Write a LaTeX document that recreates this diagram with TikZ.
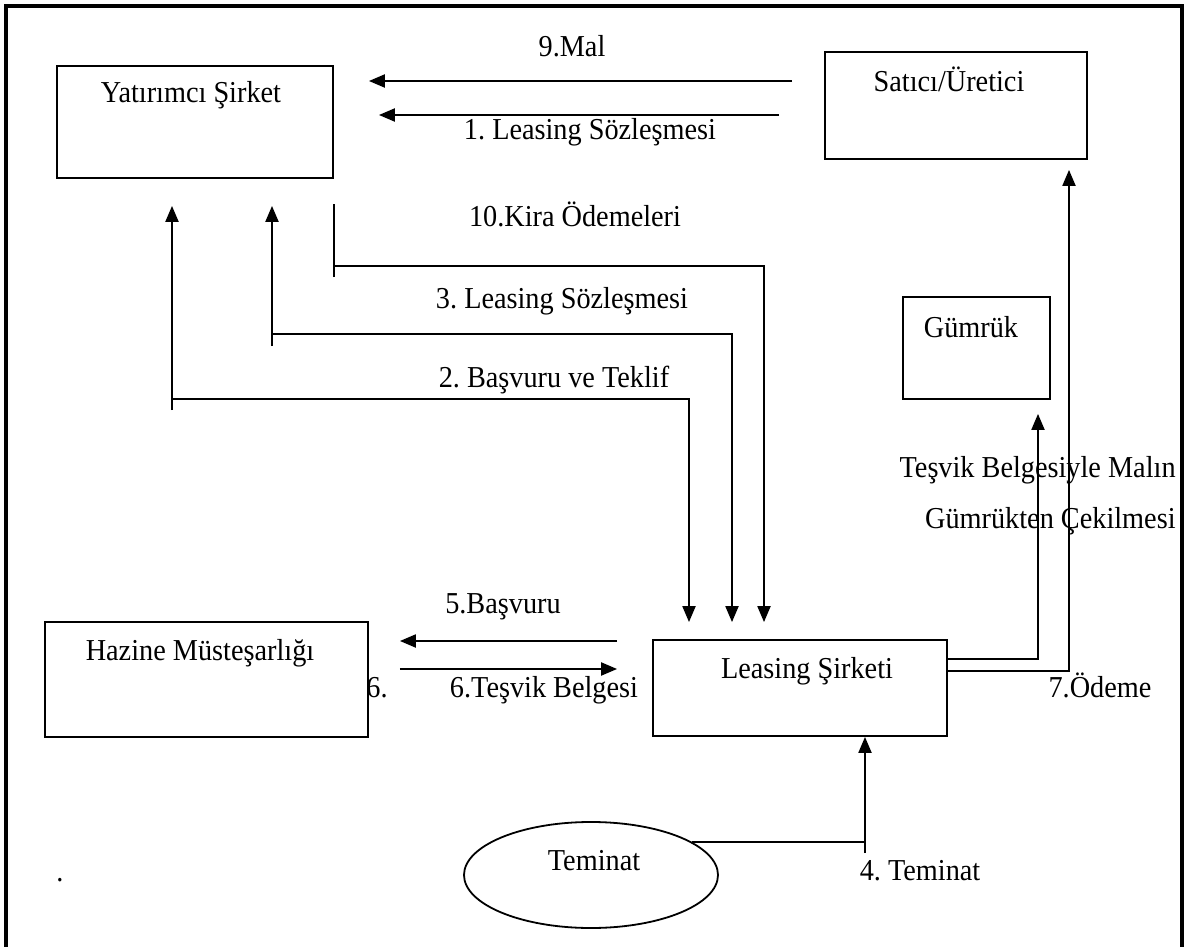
\documentclass[tikz,border=0pt]{standalone}
\usepackage{fontspec}
\setmainfont{Liberation Serif}[FakeStretch=0.93]
\usetikzlibrary{arrows.meta,shapes.geometric}
\newdimen\pxu \pxu=0.5pt
\frenchspacing

\begin{document}
\begin{tikzpicture}[
    x=0.5pt, y=-0.5pt,
    >={Triangle[length=8pt,width=6.5pt]}, % filled arrow heads
    font=\fontsize{15.2}{17}\selectfont,
    box/.style={draw, line width=0.9pt, rectangle, inner sep=0pt},
    lbl/.style={anchor=base, inner sep=0pt},
    arr/.style={->, line width=1pt},
    wire/.style={line width=1pt}
]
    \useasboundingbox (0,0) rectangle (1190,947);

    % outer frame (bottom edge is cut off)
    \draw[line width=1.6pt] (6,947) -- (6,6) -- (1182,6) -- (1182,947);

    % boxes
    \node[box, minimum width=276\pxu, minimum height=112\pxu] (yat) at (195,122) {};
    \node[box, minimum width=262\pxu, minimum height=107\pxu] (sat) at (956,105.5) {};
    \node[box, minimum width=147\pxu, minimum height=102\pxu] (gum) at (976.5,348) {};
    \node[box, minimum width=323\pxu, minimum height=115\pxu] (haz) at (206.5,679.5) {};
    \node[box, minimum width=294\pxu, minimum height=96\pxu] (lea) at (800,688) {};
    \node[box, ellipse, minimum width=254\pxu, minimum height=106\pxu] (tem) at (591,875) {};

    % box texts
    \node[lbl] (yat-t) at (191,103) {Yatırımcı Şirket};
    \node[lbl] (sat-t) at (949,92) {Satıcı/Üretici};
    \node[lbl] (gum-t) at (971,337) {Gümrük};
    \node[lbl] (haz-t) at (200,660) {Hazine Müsteşarlığı};
    \node[lbl] (lea-t) at (807,678) {Leasing Şirketi};
    \node[lbl] (tem-t) at (594,870) {Teminat};

    % 9 and 1: seller -> investor
    \draw[arr, shorten <=32\pxu, shorten >=35\pxu] (sat.west |- 0,81) -- (yat.east |- 0,81);
    \draw[arr, shorten <=45\pxu, shorten >=45\pxu] (sat.west |- 0,115) -- (yat.east |- 0,115);
    \node[lbl] (l9) at (572,57) {9.Mal};
    \node[lbl] (l1) at (590,140) {1. Leasing Sözleşmesi};

    % 2, 3, 10: investor <-> leasing company
    \coordinate (b2) at (172,410);
    \coordinate (b2h) at (172,399);
    \coordinate (b3) at (272,346);
    \coordinate (b3h) at (272,334);
    \coordinate (k10) at (334,277);
    \coordinate (k10h) at (334,266);
    \draw[arr, shorten >=27\pxu] (b2) -- (b2 |- yat.south);
    \draw[arr, shorten >=27\pxu] (b3) -- (b3 |- yat.south);
    \draw[wire, shorten >=25\pxu] (k10) -- (k10 |- yat.south);
    \draw[arr, shorten >=17\pxu] (b2h) -| ([xshift=-111\pxu]lea.north);
    \draw[arr, shorten >=17\pxu] (b3h) -| ([xshift=-68\pxu]lea.north);
    \draw[arr, shorten >=17\pxu] (k10h) -| ([xshift=-36\pxu]lea.north);
    \node[lbl] (l10) at (575,227) {10.Kira Ödemeleri};
    \node[lbl] (l3) at (562,308) {3. Leasing Sözleşmesi};
    \node[lbl] (l2) at (554,387) {2. Başvuru ve Teklif};

    % 5 and 6: treasury
    \draw[arr, shorten <=35\pxu, shorten >=31\pxu] (lea.west |- 0,641) -- (haz.east |- 0,641);
    \draw[arr, shorten <=31\pxu, shorten >=35\pxu] (haz.east |- 0,669) -- (lea.west |- 0,669);
    \node[lbl] (l5) at (503,613) {5.Başvuru};
    \node[lbl] (l6) at (544,697) {6.Teşvik Belgesi};
    \node[lbl] (l6b) at (377,697) {6.};

    % customs and payment
    \draw[arr, shorten >=14\pxu] (lea.east |- 0,659) -| ([xshift=61.5\pxu]gum.south);
    \draw[arr, shorten >=10\pxu] (lea.east |- 0,671) -| ([xshift=113\pxu]sat.south);
    \node[lbl, anchor=base east] (lc1) at (1176,477) {Teşvik Belgesiyle Malın};
    \node[lbl, anchor=base east] (lc2) at (1176,528) {Gümrükten Çekilmesi};
    \node[lbl] (l7) at (1100,697) {7.Ödeme};

    % 4: guarantee
    \coordinate (t4) at (865,853);
    \draw[arr] (t4) -- (t4 |- lea.south);
    \draw[wire] (tem.18) -- (tem.18 -| t4);
    \node[lbl] (l4) at (920,880) {4. Teminat};

    \node[lbl] (dot) at (60,881) {.};
\end{tikzpicture}
\end{document}
